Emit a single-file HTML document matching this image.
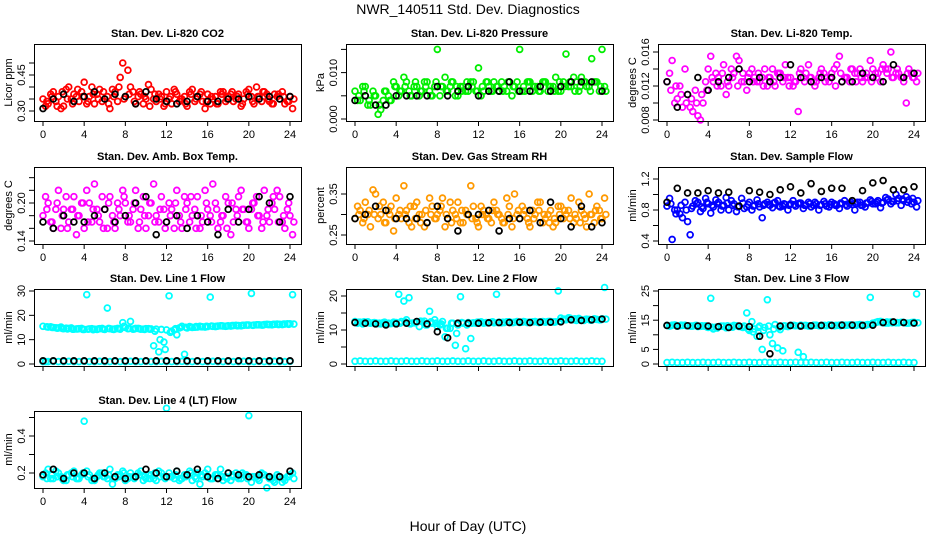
<!DOCTYPE html>
<html><head><meta charset="utf-8">
<style>
html,body{margin:0;padding:0;background:#fff;}
svg{display:block;font-family:"Liberation Sans",Arial,sans-serif;}
</style></head>
<body>
<svg id="chart" width="936" height="540" viewBox="0 0 936 540" xmlns="http://www.w3.org/2000/svg">
<text x="468" y="14" text-anchor="middle" font-size="14">NWR_140511  Std. Dev. Diagnostics</text>
<text x="468" y="531" text-anchor="middle" font-size="14">Hour of Day (UTC)</text>
</svg>
<script>
// ---- data (A at 0,0.5,...,24; B at 0.25+0.5i; C at 0.375+0.5i; black hourly 0..24) ----
const hourTicks = [0,4,8,12,16,20,24];

const co2A = [0.35,0.33,0.38,0.36,0.32,0.40,0.37,0.34,0.42,0.36,0.33,0.39,0.35,0.31,0.38,0.44,0.36,0.40,0.33,0.37,0.35,0.39,0.34,0.36,0.38,0.33,0.37,0.35,0.32,0.39,0.36,0.34,0.37,0.35,0.33,0.38,0.36,0.34,0.37,0.35,0.39,0.33,0.36,0.38,0.34,0.37,0.35,0.33,0.36];
const co2B = [0.32,0.37,0.34,0.31,0.39,0.35,0.36,0.38,0.33,0.40,0.37,0.34,0.36,0.39,0.34,0.50,0.47,0.38,0.36,0.33,0.41,0.35,0.37,0.32,0.35,0.39,0.34,0.36,0.38,0.34,0.37,0.31,0.33,0.36,0.38,0.34,0.37,0.35,0.32,0.38,0.36,0.40,0.34,0.37,0.33,0.36,0.38,0.34,0.31];
const co2C = [0.34,0.36,0.32,0.38,0.35,0.33,0.39,0.36,0.34,0.37,0.35,0.38,0.33,0.36,0.40,0.35,0.37,0.34,0.38,0.36,0.32,0.37,0.35,0.33,0.36,0.38,0.35,0.33,0.37,0.35,0.38,0.34,0.36,0.33,0.37,0.35,0.38,0.36,0.33,0.37,0.34,0.36,0.38,0.35,0.33,0.37,0.36,0.34,0.35];
const co2K = [0.31,0.35,0.37,0.34,0.36,0.38,0.35,0.37,0.36,0.33,0.38,0.35,0.34,0.33,0.34,0.36,0.34,0.34,0.35,0.35,0.36,0.35,0.36,0.35,0.36];

const presA = [0.006,0.004,0.007,0.003,0.005,0.002,0.006,0.004,0.007,0.006,0.008,0.005,0.007,0.006,0.008,0.005,0.015,0.007,0.006,0.008,0.005,0.007,0.006,0.008,0.011,0.006,0.007,0.008,0.006,0.007,0.008,0.007,0.015,0.006,0.008,0.007,0.006,0.008,0.007,0.009,0.006,0.014,0.007,0.008,0.009,0.007,0.013,0.008,0.015];
const presB = [0.004,0.007,0.003,0.006,0.001,0.004,0.005,0.008,0.005,0.009,0.006,0.007,0.005,0.008,0.006,0.007,0.005,0.009,0.007,0.005,0.007,0.006,0.008,0.006,0.005,0.008,0.006,0.007,0.008,0.006,0.005,0.008,0.006,0.008,0.006,0.007,0.008,0.006,0.007,0.006,0.008,0.007,0.009,0.006,0.008,0.007,0.008,0.006,0.007];
const presC = [0.005,0.006,0.004,0.005,0.003,0.006,0.004,0.007,0.006,0.007,0.005,0.008,0.006,0.007,0.005,0.008,0.007,0.006,0.008,0.007,0.006,0.008,0.007,0.006,0.007,0.008,0.006,0.007,0.006,0.008,0.007,0.006,0.007,0.008,0.007,0.006,0.008,0.007,0.006,0.008,0.007,0.008,0.006,0.007,0.008,0.006,0.008,0.007,0.006];
const presK = [0.004,0.005,0.003,0.003,0.005,0.005,0.005,0.005,0.007,0.005,0.006,0.007,0.005,0.006,0.006,0.008,0.006,0.006,0.007,0.006,0.007,0.008,0.008,0.008,0.006];

const tempA = [0.0125,0.0150,0.0105,0.0095,0.0110,0.0090,0.0085,0.0100,0.0140,0.0125,0.0130,0.0145,0.0120,0.0135,0.0150,0.0125,0.0135,0.0130,0.0125,0.0140,0.0130,0.0120,0.0135,0.0145,0.0130,0.0125,0.0140,0.0135,0.0130,0.0125,0.0140,0.0130,0.0135,0.0145,0.0125,0.0130,0.0140,0.0135,0.0125,0.0130,0.0140,0.0135,0.0145,0.0140,0.0130,0.0135,0.0125,0.0140,0.0130];
const tempB = [0.0135,0.0100,0.0120,0.0140,0.0095,0.0115,0.0080,0.0125,0.0155,0.0135,0.0120,0.0110,0.0140,0.0155,0.0125,0.0115,0.0140,0.0125,0.0130,0.0120,0.0140,0.0135,0.0125,0.0130,0.0120,0.0090,0.0130,0.0145,0.0125,0.0130,0.0135,0.0125,0.0140,0.0155,0.0130,0.0125,0.0135,0.0140,0.0130,0.0150,0.0135,0.0125,0.0140,0.0160,0.0135,0.0130,0.0100,0.0135,0.0125];
const tempC = [0.0115,0.0120,0.0110,0.0100,0.0105,0.0100,0.0110,0.0115,0.0130,0.0120,0.0135,0.0125,0.0130,0.0120,0.0135,0.0130,0.0125,0.0135,0.0120,0.0130,0.0125,0.0135,0.0130,0.0120,0.0125,0.0135,0.0125,0.0130,0.0120,0.0135,0.0125,0.0130,0.0120,0.0135,0.0130,0.0140,0.0125,0.0130,0.0135,0.0125,0.0130,0.0140,0.0135,0.0130,0.0140,0.0130,0.0135,0.0130,0.0135];
const tempK = [0.0125,0.0095,0.0110,0.0130,0.0115,0.0125,0.0130,0.0140,0.0125,0.0130,0.0125,0.0130,0.0145,0.0130,0.0125,0.0130,0.0130,0.0125,0.0125,0.0135,0.0130,0.0125,0.0145,0.0130,0.0135];

const ambA = [0.18,0.20,0.16,0.22,0.19,0.17,0.21,0.18,0.16,0.20,0.23,0.17,0.19,0.21,0.16,0.18,0.20,0.17,0.22,0.19,0.16,0.20,0.18,0.21,0.17,0.19,0.22,0.16,0.20,0.18,0.21,0.17,0.19,0.23,0.16,0.18,0.20,0.17,0.21,0.19,0.16,0.20,0.18,0.22,0.17,0.19,0.21,0.16,0.18];
const ambB = [0.21,0.17,0.19,0.16,0.21,0.19,0.15,0.20,0.22,0.17,0.19,0.21,0.16,0.18,0.20,0.22,0.17,0.19,0.16,0.21,0.18,0.23,0.17,0.19,0.20,0.16,0.18,0.21,0.17,0.19,0.16,0.22,0.18,0.20,0.17,0.21,0.15,0.19,0.22,0.17,0.19,0.21,0.16,0.18,0.20,0.22,0.17,0.19,0.15];
const ambC = [0.19,0.17,0.20,0.18,0.16,0.19,0.18,0.20,0.17,0.19,0.18,0.16,0.20,0.17,0.19,0.21,0.18,0.20,0.17,0.18,0.20,0.17,0.19,0.16,0.18,0.20,0.17,0.19,0.21,0.16,0.18,0.20,0.17,0.19,0.18,0.16,0.20,0.18,0.19,0.17,0.20,0.18,0.17,0.19,0.21,0.17,0.18,0.20,0.17];
const ambK = [0.17,0.16,0.18,0.17,0.17,0.18,0.19,0.17,0.18,0.20,0.21,0.15,0.17,0.18,0.16,0.18,0.17,0.15,0.19,0.17,0.19,0.21,0.20,0.17,0.21];

const rhA = [0.29,0.31,0.33,0.27,0.35,0.30,0.28,0.32,0.34,0.29,0.31,0.27,0.33,0.30,0.28,0.32,0.30,0.34,0.29,0.31,0.33,0.28,0.30,0.32,0.27,0.31,0.29,0.33,0.30,0.28,0.32,0.35,0.29,0.31,0.27,0.30,0.33,0.29,0.31,0.28,0.32,0.30,0.34,0.29,0.31,0.27,0.30,0.32,0.29];
const rhB = [0.32,0.28,0.30,0.36,0.29,0.33,0.31,0.26,0.30,0.37,0.28,0.32,0.30,0.27,0.34,0.29,0.31,0.27,0.33,0.30,0.28,0.31,0.37,0.29,0.32,0.30,0.28,0.31,0.29,0.34,0.27,0.30,0.32,0.29,0.31,0.33,0.28,0.30,0.27,0.32,0.29,0.31,0.28,0.33,0.30,0.35,0.28,0.31,0.34];
const rhC = [0.30,0.29,0.31,0.30,0.32,0.28,0.30,0.29,0.31,0.30,0.32,0.29,0.28,0.31,0.30,0.29,0.32,0.30,0.28,0.29,0.31,0.30,0.29,0.28,0.30,0.29,0.31,0.30,0.28,0.30,0.29,0.31,0.30,0.28,0.29,0.31,0.30,0.28,0.29,0.30,0.31,0.29,0.30,0.28,0.29,0.30,0.31,0.29,0.30];
const rhK = [0.29,0.30,0.32,0.31,0.29,0.29,0.29,0.28,0.32,0.29,0.26,0.30,0.30,0.31,0.26,0.29,0.29,0.31,0.28,0.33,0.29,0.27,0.32,0.27,0.28];

const sfA = [0.85,0.42,0.80,0.70,0.65,0.85,0.90,0.82,0.88,0.84,0.90,0.86,0.80,0.88,0.85,0.82,0.90,0.86,0.84,0.88,0.86,0.90,0.84,0.87,0.88,0.85,0.89,0.86,0.84,0.88,0.87,0.85,0.90,0.86,0.88,0.85,0.87,0.90,0.86,0.89,0.88,0.92,0.90,0.94,0.91,0.95,0.92,0.93,0.90];
const sfB = [0.95,0.80,0.75,0.90,0.48,0.92,0.78,0.95,0.76,0.93,0.80,0.96,0.92,0.78,0.95,0.84,0.80,0.93,0.70,0.90,0.83,0.92,0.85,0.80,0.92,0.88,0.82,0.90,0.86,0.80,0.91,0.84,0.88,0.82,0.92,0.88,0.80,0.90,0.84,0.93,0.88,0.83,0.96,0.88,1.00,0.86,0.97,0.88,0.84];
const sfC = [0.88,0.75,0.86,0.80,0.82,0.88,0.84,0.90,0.86,0.88,0.85,0.89,0.86,0.84,0.89,0.87,0.85,0.88,0.86,0.87,0.89,0.85,0.88,0.86,0.87,0.89,0.86,0.88,0.90,0.86,0.88,0.87,0.86,0.89,0.87,0.90,0.88,0.86,0.89,0.91,0.90,0.89,0.93,0.91,0.92,0.94,0.90,0.95,0.92];
const sfK = [0.90,1.08,1.02,1.02,1.05,1.02,1.03,0.85,1.05,1.03,1.00,1.06,1.10,1.02,1.14,1.04,1.08,1.08,0.92,1.05,1.15,1.18,1.06,1.06,1.10];

const l1A = [15.5,15.2,15.0,14.8,14.5,14.6,14.3,14.5,14.2,14.4,14.3,14.5,14.2,14.5,14.4,14.3,15.0,17.5,14.6,14.3,14.5,14.4,14.3,14.2,14.0,13.5,12.0,15.5,14.8,15.0,15.2,15.3,15.4,15.5,15.6,15.6,15.7,15.8,15.8,15.9,16.0,16.0,16.1,16.2,16.2,16.3,16.3,16.4,16.5];
const l1B = [1.0,15.3,14.9,15.2,14.7,14.8,14.4,14.6,28.5,14.5,14.2,14.6,23.0,14.3,14.6,17.0,14.5,14.3,14.6,14.3,14.5,7.5,5.0,9.0,28.0,14.0,14.8,4.0,15.4,15.1,15.5,15.2,27.5,15.4,15.7,15.5,15.6,15.9,15.7,16.0,29.0,16.1,16.0,16.3,16.1,16.4,16.2,16.5,28.5];
const l1C = [15.3,15.0,14.7,14.6,14.4,14.3,14.4,14.2,14.3,14.1,14.4,14.3,14.6,14.2,14.5,15.5,14.6,14.4,14.5,14.2,14.3,13.5,10.0,6.0,13.0,14.5,15.0,15.1,15.2,15.4,15.3,15.5,15.6,15.5,15.7,15.6,15.8,15.7,15.9,16.0,15.9,16.1,16.0,16.2,16.3,16.2,16.4,16.3,16.4];
const l1Low = [1.0,1.0,1.1,1.0,1.0,1.1,1.0,1.0,1.1,1.0,1.0,1.1,1.0,1.0,1.1,1.0,1.0,1.1,1.0,1.0,1.1,1.0,1.0,1.1,1.0,1.0,1.0,1.1,1.0,1.0,1.1,1.0,1.0,1.1,1.0,1.0,1.1,1.0,1.0,1.1,1.0,1.0,1.1,1.0,1.0,1.1,1.0,1.0,1.1];
const l1K = [1.3,1.3,1.3,1.3,1.3,1.3,1.3,1.3,1.3,1.3,1.3,1.3,1.3,1.3,1.3,1.3,1.3,1.3,1.3,1.3,1.3,1.3,1.3,1.3,1.3];

const l2A = [12.5,12.3,12.2,12.0,12.1,11.8,12.0,11.9,12.2,12.5,13.0,12.0,12.3,12.5,11.5,12.0,11.0,12.5,10.5,12.0,11.5,12.0,12.2,12.1,12.3,12.0,12.2,12.1,12.3,12.2,12.4,12.3,12.2,12.4,12.3,12.5,12.4,12.3,12.5,12.4,13.5,13.0,13.2,12.8,13.0,13.2,12.9,13.1,13.3];
const l2B = [12.0,11.8,12.4,12.1,11.9,12.2,12.0,12.3,20.5,18.5,19.5,12.1,11.0,12.6,15.5,13.0,11.5,8.0,10.5,5.5,19.8,4.5,7.5,12.0,12.4,12.2,12.3,20.5,12.1,12.4,12.2,12.5,12.3,12.2,12.4,12.3,12.5,12.5,12.4,21.5,13.2,13.6,13.0,13.4,12.8,13.1,13.3,13.0,22.5];
const l2C = [12.3,12.4,12.1,12.2,12.0,12.3,11.9,12.1,12.0,12.4,11.8,12.2,12.6,11.5,12.4,12.0,11.8,10.5,12.0,9.0,12.2,11.5,12.0,12.3,12.2,12.1,12.4,12.2,12.3,12.4,12.2,12.3,12.5,12.3,12.4,12.2,12.4,12.5,12.3,12.6,13.2,13.5,13.3,13.0,13.1,12.9,13.2,13.0,13.2];
const l2Low = [0.8,0.9,0.8,0.8,0.9,0.8,0.8,0.9,0.8,0.8,0.9,0.8,0.8,0.9,0.8,0.8,0.9,0.8,0.8,0.9,0.8,0.8,0.9,0.8,0.8,0.9,0.8,0.8,0.9,0.8,0.8,0.9,0.8,0.8,0.9,0.8,0.8,0.9,0.8,0.8,0.9,0.8,0.8,0.9,0.8,0.8,0.9,0.8,0.8];
const l2K = [12.2,12.0,11.8,11.5,11.8,12.0,12.5,11.8,9.5,7.7,12.0,12.0,12.0,12.1,12.2,12.2,12.3,12.2,12.3,12.3,12.4,13.0,12.8,13.0,13.2];

const l3A = [13.2,13.3,13.0,13.2,13.1,13.0,12.8,13.0,12.5,12.0,12.8,13.0,12.5,13.2,12.8,13.0,11.5,12.0,13.0,12.5,10.0,13.5,11.8,13.0,13.2,13.1,13.3,13.2,13.0,13.3,13.2,13.1,13.3,13.2,13.4,13.3,13.2,13.4,13.3,13.5,14.0,14.5,14.2,14.0,14.3,14.1,14.2,14.0,14.3];
const l3B = [13.0,13.4,13.1,13.3,13.0,13.2,12.9,13.1,22.5,12.6,13.0,12.4,12.9,13.1,12.7,17.5,14.5,9.5,5.0,22.0,7.0,5.5,4.5,12.8,13.2,4.0,2.5,13.0,13.3,13.1,13.2,13.4,13.1,13.3,13.2,13.4,13.3,13.5,13.2,22.8,14.2,14.6,14.0,14.4,14.1,14.3,14.0,14.2,24.0];
const l3C = [13.1,13.2,13.3,13.1,13.0,13.2,13.1,12.7,12.6,12.3,12.9,13.1,12.6,13.0,12.5,12.0,11.0,12.5,11.5,13.0,12.0,12.5,13.1,13.0,13.2,13.0,13.2,13.1,13.3,13.1,13.2,13.3,13.2,13.1,13.3,13.4,13.2,13.3,13.4,13.6,14.3,14.2,14.4,14.1,14.2,14.3,14.0,14.2,14.1];
const l3Low = [0.5,0.6,0.5,0.5,0.6,0.5,0.5,0.6,0.5,0.5,0.6,0.5,0.5,0.6,0.5,0.5,0.6,0.5,0.5,0.6,0.5,0.5,0.6,0.5,0.5,0.6,0.5,0.5,0.6,0.5,0.5,0.6,0.5,0.5,0.6,0.5,0.5,0.6,0.5,0.5,0.6,0.5,0.5,0.6,0.5,0.5,0.6,0.5,0.5];
const l3K = [13.2,13.0,13.1,13.0,13.0,12.8,12.5,13.0,12.8,9.5,3.5,13.0,13.2,13.0,13.1,13.2,13.2,13.3,13.3,13.2,13.3,14.2,14.4,14.2,14.0];

const l4A = [0.18,0.22,0.17,0.20,0.16,0.19,0.21,0.17,0.48,0.19,0.16,0.20,0.18,0.22,0.17,0.19,0.16,0.20,0.18,0.21,0.17,0.19,0.16,0.20,0.55,0.18,0.21,0.17,0.19,0.16,0.20,0.18,0.22,0.17,0.19,0.16,0.20,0.18,0.17,0.19,0.51,0.18,0.16,0.19,0.17,0.15,0.18,0.16,0.19];
const l4B = [0.20,0.17,0.21,0.18,0.16,0.20,0.17,0.19,0.21,0.16,0.18,0.20,0.17,0.14,0.19,0.21,0.17,0.18,0.20,0.16,0.19,0.17,0.21,0.18,0.20,0.17,0.16,0.19,0.21,0.18,0.14,0.20,0.17,0.19,0.22,0.18,0.16,0.20,0.17,0.19,0.15,0.18,0.20,0.12,0.17,0.19,0.15,0.18,0.20];
const l4C = [0.17,0.19,0.18,0.17,0.19,0.18,0.17,0.20,0.18,0.17,0.19,0.18,0.19,0.17,0.18,0.20,0.18,0.17,0.19,0.18,0.17,0.20,0.18,0.17,0.18,0.19,0.17,0.18,0.20,0.17,0.19,0.18,0.17,0.19,0.18,0.17,0.19,0.18,0.20,0.17,0.18,0.17,0.19,0.18,0.16,0.18,0.17,0.18,0.17];
const l4K = [0.19,0.22,0.17,0.20,0.20,0.17,0.20,0.18,0.17,0.18,0.22,0.20,0.18,0.21,0.19,0.22,0.18,0.17,0.20,0.19,0.18,0.19,0.18,0.18,0.21];

// tick values & labels per panel
const co2Ticks=[0.30,0.35,0.40,0.45,0.50], co2Labels=["0.30","","","0.45",""];
const presTicks=[0,0.005,0.010,0.015], presLabels=["0.000","","0.010",""];
const tempTicks=[0.008,0.010,0.012,0.014,0.016], tempLabels=["0.008","","0.012","","0.016"];
const ambTicks=[0.14,0.16,0.18,0.20,0.22,0.24], ambLabels=["0.14","","","0.20","",""];
const rhTicks=[0.25,0.30,0.35], rhLabels=["0.25","","0.35"];
const sfTicks=[0.4,0.6,0.8,1.0,1.2], sfLabels=["0.4","","0.8","","1.2"];
const l1Ticks=[0,10,20,30], l1Labels=["0","10","20","30"];
const l2Ticks=[0,5,10,15,20], l2Labels=["0","","10","","20"];
const l3Ticks=[0,5,10,15,20,25], l3Labels=["0","5","","15","","25"];
const l4Ticks=[0.2,0.3,0.4,0.5], l4Labels=["0.2","","0.4",""];

const NS="http://www.w3.org/2000/svg";
const svg=document.getElementById('chart');
function mk(tag,attrs,parent){const e=document.createElementNS(NS,tag);for(const k in attrs)e.setAttribute(k,attrs[k]);(parent||svg).appendChild(e);return e;}

const BW=267, BH=77;
function panel(o){
  const g=mk('g',{});
  
  
  const L=o.L, T=o.T, B=T+BH;
  const xs=t=>L+9+t*(247/24);
  const ys=v=>o.y0+(v-o.v0)*(o.y1-o.y0)/(o.v1-o.v0);
  const title=mk('text',{x:L+BW/2,y:T-7,'text-anchor':'middle','font-size':11,'font-weight':'bold'},g);
  title.textContent=o.title;
  
  
  const yt=mk('text',{x:0,y:0,'text-anchor':'middle','font-size':11,transform:`translate(${L-22},${T+BH/2}) rotate(-90)`},g);
  yt.textContent=o.ylab;
  
  
  hourTicks.forEach(h=>{
    mk('line',{x1:xs(h),x2:xs(h),y1:B,y2:B+5,stroke:'#000','stroke-width':1},g);
    if(o.xlab){const t=mk('text',{x:xs(h),y:B+17,'text-anchor':'middle','font-size':11},g);t.textContent=h;
      
      }
  });
  o.ticks.forEach((v,i)=>{
    const y=ys(v);
    mk('line',{x1:L-5,x2:L,y1:y,y2:y,stroke:'#000','stroke-width':1},g);
    if(o.labels[i]){const t=mk('text',{x:0,y:0,'text-anchor':'middle','font-size':11,transform:`translate(${L-9},${y}) rotate(-90)`},g);t.textContent=o.labels[i];
      
      }
  });
  const pg=mk('g',{},g);
  function pts(arr,off,step,col,nm){
    arr.forEach((v,i)=>{
      const c=mk('circle',{cx:xs(off+i*step),cy:ys(v),r:2.9,fill:'none',stroke:col,'stroke-width':1.8},pg);
      
      
    });
  }
  if(o.low) pts(o.low,0,0.5,o.col,o.name+'-low-point');
  pts(o.A,0,0.5,o.col,o.name+'-point');
  pts(o.B,0.25,0.5,o.col,o.name+'-point');
  pts(o.C,0.375,0.5,o.col,o.name+'-point');
  pts(o.K,0,1,'#000',o.name+'-black-point');
  const r=mk('rect',{x:L+0.5,y:T+0.5,width:BW,height:BH,fill:'none',stroke:'#000','stroke-width':1},g);
  
  
}
const C1=34,C2=346,C3=658, R1=44,R2=167,R3=289,R4=411;
panel({name:'co2',title:'Stan. Dev. Li-820 CO2',ylab:'Licor ppm',L:C1,T:R1,v0:0.30,y0:111,v1:0.45,y1:75,ticks:co2Ticks,labels:co2Labels,col:'#ff0000',A:co2A,B:co2B,C:co2C,K:co2K,xlab:true});
panel({name:'pressure',title:'Stan. Dev. Li-820 Pressure',ylab:'kPa',L:C2,T:R1,v0:0,y0:119,v1:0.010,y1:72.6,ticks:presTicks,labels:presLabels,col:'#00ee00',A:presA,B:presB,C:presC,K:presK,xlab:true});
panel({name:'temp',title:'Stan. Dev. Li-820 Temp.',ylab:'degrees C',L:C3,T:R1,v0:0.008,y0:120,v1:0.016,y1:52,ticks:tempTicks,labels:tempLabels,col:'#ff00ff',A:tempA,B:tempB,C:tempC,K:tempK,xlab:true});
panel({name:'amb-box-temp',title:'Stan. Dev. Amb. Box Temp.',ylab:'degrees C',L:C1,T:R2,v0:0.14,y0:241,v1:0.20,y1:203,ticks:ambTicks,labels:ambLabels,col:'#ff00ff',A:ambA,B:ambB,C:ambC,K:ambK,xlab:true});
panel({name:'gas-rh',title:'Stan. Dev. Gas Stream RH',ylab:'percent',L:C2,T:R2,v0:0.25,y0:235,v1:0.35,y1:194,ticks:rhTicks,labels:rhLabels,col:'#ff9900',A:rhA,B:rhB,C:rhC,K:rhK,xlab:true});
panel({name:'sample-flow',title:'Stan. Dev. Sample Flow',ylab:'ml/min',L:C3,T:R2,v0:0.4,y0:241,v1:1.2,y1:179,ticks:sfTicks,labels:sfLabels,col:'#0000ff',A:sfA,B:sfB,C:sfC,K:sfK,xlab:true});
panel({name:'line1-flow',title:'Stan. Dev. Line 1 Flow',ylab:'ml/min',L:C1,T:R3,v0:0,y0:364,v1:30,y1:291,ticks:l1Ticks,labels:l1Labels,col:'#00ffff',A:l1A,B:l1B,C:l1C,low:l1Low,K:l1K,xlab:false});
panel({name:'line2-flow',title:'Stan. Dev. Line 2 Flow',ylab:'ml/min',L:C2,T:R3,v0:0,y0:364,v1:20,y1:296,ticks:l2Ticks,labels:l2Labels,col:'#00ffff',A:l2A,B:l2B,C:l2C,low:l2Low,K:l2K,xlab:false});
panel({name:'line3-flow',title:'Stan. Dev. Line 3 Flow',ylab:'ml/min',L:C3,T:R3,v0:0,y0:364,v1:25,y1:291,ticks:l3Ticks,labels:l3Labels,col:'#00ffff',A:l3A,B:l3B,C:l3C,low:l3Low,K:l3K,xlab:false});
panel({name:'line4-flow',title:'Stan. Dev. Line 4 (LT) Flow',ylab:'ml/min',L:C1,T:R4,v0:0.2,y0:473,v1:0.4,y1:436,ticks:l4Ticks,labels:l4Labels,col:'#00ffff',A:l4A,B:l4B,C:l4C,K:l4K,xlab:true});
</script>
</body></html>
